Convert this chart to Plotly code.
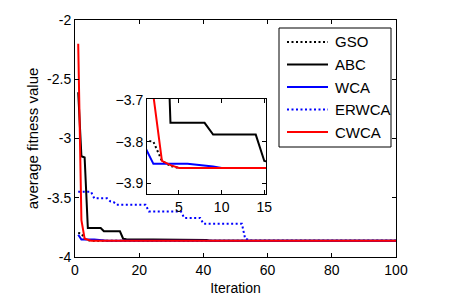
import plotly.graph_objects as go

# ---- data (vertices of each piecewise-linear curve) ----
gso_x = [1, 2, 3, 4, 5, 100]
gso_y = [-3.797, -3.800, -3.846, -3.858, -3.8628, -3.8628]

abc_x = [1, 2, 3, 4, 8, 9, 14, 15, 16, 35, 36, 41, 42, 100]
abc_y = [-2.61, -3.15, -3.16, -3.755, -3.755, -3.783, -3.783, -3.846, -3.850,
         -3.850, -3.856, -3.856, -3.8628, -3.8628]

wca_x = [1, 2, 6, 7, 8, 9, 10, 100]
wca_y = [-3.812, -3.853, -3.853, -3.855, -3.857, -3.859, -3.8628, -3.8628]

erwca_x = [1, 5, 6, 10, 11, 12, 13, 22, 23, 33, 34, 39, 40, 52, 53, 54, 55, 100]
erwca_y = [-3.45, -3.45, -3.505, -3.505, -3.53, -3.535, -3.56, -3.56, -3.615,
           -3.615, -3.67, -3.67, -3.72, -3.72, -3.845, -3.855, -3.8628, -3.8628]

cwca_x = [1, 2, 3, 4, 5, 100]
cwca_y = [-2.20, -3.69, -3.846, -3.856, -3.8628, -3.8628]

series = [
    ("GSO", gso_x, gso_y, "black", "2px,2.5px"),
    ("ABC", abc_x, abc_y, "black", "solid"),
    ("WCA", wca_x, wca_y, "#0000FF", "solid"),
    ("ERWCA", erwca_x, erwca_y, "#0000FF", "2px,2.5px"),
    ("CWCA", cwca_x, cwca_y, "#FF0000", "solid"),
]

main_xticks = [0, 20, 40, 60, 80, 100]
main_yticks = [-4, -3.5, -3, -2.5, -2]
inset_xticks = [5, 10, 15]
inset_yticks = [-3.9, -3.8, -3.7]

FONT = "Arial, Liberation Sans, sans-serif"
fig = go.Figure()

for name, xs, ys, col, dash in series:
    fig.add_trace(go.Scatter(x=xs, y=ys, mode="lines", name=name,
                             line=dict(color=col, width=2, dash=dash),
                             xaxis="x", yaxis="y", showlegend=False))
for name, xs, ys, col, dash in series:
    fig.add_trace(go.Scatter(x=xs, y=ys, mode="lines", name=name,
                             line=dict(color=col, width=2, dash=dash),
                             xaxis="x2", yaxis="y2", showlegend=False))

# page body adds an 8px offset; layout is expressed in screen pixels
OFF = 8
W, H = 452 - OFF, 301 - OFF
L, T = 75 - OFF, 20 - OFF
R = W - (396 - OFF)
B = H - (257 - OFF)
pw, ph = W - L - R, H - T - B


def px(x):
    return (x - OFF - L) / pw


def py(y):
    return (H - B - (y - OFF)) / ph


shapes = [dict(type="rect", xref="paper", yref="paper",
               x0=px(279), x1=px(391), y0=py(147), y1=py(28),
               line=dict(color="black", width=1), fillcolor="white", layer="above")]
annotations = []
rows = [42, 64.5, 87, 109.5, 132]
for (name, xs, ys, col, dash), yy in zip(series, rows):
    shapes.append(dict(type="line", xref="paper", yref="paper",
                       x0=px(287), x1=px(328), y0=py(yy), y1=py(yy),
                       line=dict(color=col, width=2, dash=dash), layer="above"))
    annotations.append(dict(text=name, xref="paper", yref="paper",
                            x=px(333), y=py(yy), xanchor="left", yanchor="middle",
                            showarrow=False, font=dict(family=FONT, size=15, color="black")))

axis_common = dict(showgrid=False, zeroline=False, showline=True, linecolor="black",
                   linewidth=1, mirror="ticks", ticks="inside", ticklen=4,
                   tickcolor="black", automargin=False,
                   tickfont=dict(family=FONT, size=14, color="black"))

fig.update_layout(
    width=W, height=H,
    margin=dict(l=L, r=R, t=T, b=B),
    paper_bgcolor="white", plot_bgcolor="white",
    showlegend=False,
    xaxis=dict(range=[0, 100], tickvals=main_xticks, domain=[0, 1],
               title=dict(text="Iteration", font=dict(family=FONT, size=14, color="black"),
                          standoff=6),
               **axis_common),
    yaxis=dict(range=[-4, -2], tickvals=main_yticks, domain=[0, 1],
               ticktext=[str(v) for v in main_yticks],
               title=dict(text="average fitness value",
                          font=dict(family=FONT, size=15, color="black"), standoff=4),
               **axis_common),
    xaxis2=dict(range=[1.25, 15.2], tickvals=inset_xticks, anchor="y2",
                domain=[px(147), px(266)], **axis_common),
    yaxis2=dict(range=[-3.925, -3.698], tickvals=inset_yticks, anchor="x2",
                domain=[py(194), py(99)], **axis_common),
    shapes=shapes,
    annotations=annotations,
)

fig.write_html("out.html")
